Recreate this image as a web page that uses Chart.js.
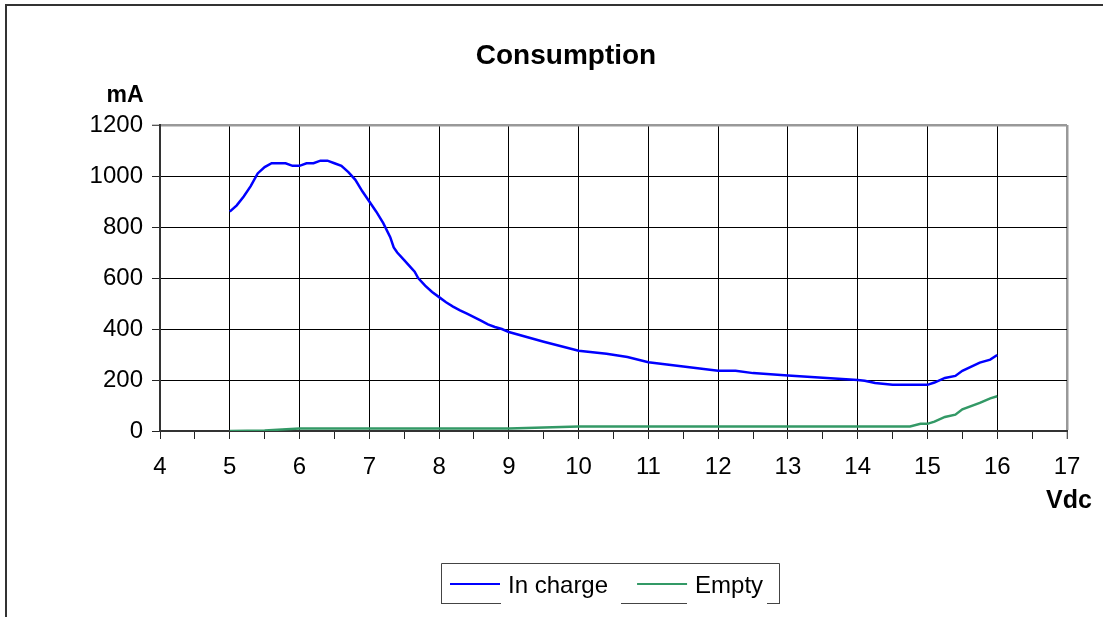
<!DOCTYPE html>
<html>
<head>
<meta charset="utf-8">
<script src="https://cdn.jsdelivr.net/npm/chart.js@4/dist/chart.umd.min.js"></script>
<style>
  html, body { margin: 0; padding: 0; background: #fff; overflow: hidden; }
  canvas { display: block; }
</style>
</head>
<body>
<canvas id="c" width="1103" height="617"></canvas>
<script>
// Texts
const chartTitle = 'Consumption';
const yAxisTitle = 'mA';
const xAxisTitle = 'Vdc';
const seriesNames = ['In charge', 'Empty'];

// Supply voltage (Vdc) and current draw (mA), battery in charge
const chargeVolts = [5.0, 5.1, 5.2, 5.3, 5.4, 5.5, 5.6, 5.7, 5.8, 5.9, 6.0, 6.1, 6.2, 6.3, 6.4, 6.5, 6.6, 6.7, 6.8, 6.9,
  7.0, 7.1, 7.2, 7.3, 7.35, 7.4, 7.5, 7.6, 7.65, 7.7, 7.8, 7.9, 8.0, 8.1, 8.2, 8.3, 8.4, 8.5, 8.6, 8.7, 8.8, 8.9,
  9.0, 9.5, 10.0, 10.4, 10.7, 11.0, 11.5, 12.0, 12.25, 12.5, 13.0, 13.5, 14.0, 14.1, 14.25, 14.5, 15.0, 15.1,
  15.25, 15.4, 15.5, 15.75, 15.9, 16.0];
const chargeMilliamps = [860, 885, 920, 960, 1010, 1035, 1050, 1050, 1050, 1040, 1040, 1050, 1050, 1060, 1060, 1050, 1040, 1015, 985, 940,
  900, 860, 815, 760, 720, 700, 670, 640, 625, 600, 570, 545, 525, 505, 488, 473, 460, 447, 433, 418, 408, 400,
  388, 350, 315, 303, 290, 270, 253, 236, 236, 227, 218, 209, 200, 197, 188, 181, 181, 190,
  208, 216, 236, 268, 280, 298];

// Battery empty
const emptyVolts = [5.0, 5.5, 6.0, 9.0, 10.0, 14.75, 14.9, 15.0, 15.1, 15.25, 15.4, 15.5, 15.75, 15.9, 16.0];
const emptyMilliamps = [0, 2, 10, 10, 18, 18, 28, 28, 37, 55, 64, 85, 110, 128, 136];

// Axis ranges and steps
const xRange = [4, 17];
const xStep = 0.5;
const yRange = [0, 1200];
const yStep = 200;

const seriesColors = ['#0000ff', '#339966'];
const FONT = 'Arial, "Liberation Sans", sans-serif';

const toPoints = (xs, ys) => xs.map((x, i) => ({ x, y: ys[i] }));

// Frame, titles and the boxed legend
const decor = {
  id: 'decor',
  beforeDraw(chart) {
    const ctx = chart.ctx;
    ctx.save();
    ctx.fillStyle = '#fff';
    ctx.fillRect(0, 0, chart.width, chart.height);
    ctx.strokeStyle = '#333';
    ctx.lineWidth = 2;
    ctx.beginPath();
    ctx.moveTo(6, chart.height);
    ctx.lineTo(6, 5);
    ctx.lineTo(chart.width, 5);
    ctx.stroke();
    ctx.restore();
  },
  afterDraw(chart) {
    const ctx = chart.ctx;
    ctx.save();
    ctx.fillStyle = '#000';
    ctx.textBaseline = 'alphabetic';

    ctx.textAlign = 'center';
    ctx.font = 'bold 28px ' + FONT;
    ctx.fillText(chartTitle, 566, 64);

    ctx.font = 'bold 23px ' + FONT;
    ctx.fillText(yAxisTitle, 125, 102);

    ctx.font = 'bold 25px ' + FONT;
    ctx.fillText(xAxisTitle, 1069, 508);

    // legend
    const box = { l: 441, t: 563, r: 779, b: 603 };
    ctx.strokeStyle = '#444';
    ctx.lineWidth = 1;
    ctx.beginPath();
    ctx.moveTo(box.l + 0.5, box.b + 0.5);
    ctx.lineTo(box.l + 0.5, box.t + 0.5);
    ctx.lineTo(box.r + 0.5, box.t + 0.5);
    ctx.lineTo(box.r + 0.5, box.b + 0.5);
    ctx.stroke();
    // bottom edge, broken under the entries
    [[441, 500], [621, 686], [767, 779]].forEach(([a, b]) => {
      ctx.beginPath();
      ctx.moveTo(a, box.b + 0.5);
      ctx.lineTo(b + 1, box.b + 0.5);
      ctx.stroke();
    });

    ctx.font = '24px ' + FONT;
    ctx.textAlign = 'left';
    const midY = 584;
    let x = 450;
    chart.data.datasets.forEach((ds) => {
      ctx.strokeStyle = ds.borderColor;
      ctx.lineWidth = 2;
      ctx.beginPath();
      ctx.moveTo(x, midY);
      ctx.lineTo(x + 50, midY);
      ctx.stroke();
      ctx.fillStyle = '#000';
      ctx.fillText(ds.label, x + 58, 593);
      x += 58 + ctx.measureText(ds.label).width + 29;
    });
    ctx.restore();
  }
};

new Chart(document.getElementById('c'), {
  type: 'line',
  data: {
    datasets: [
      {
        label: seriesNames[0],
        data: toPoints(chargeVolts, chargeMilliamps),
        borderColor: seriesColors[0],
        backgroundColor: seriesColors[0],
        borderWidth: 2.5,
        pointRadius: 0,
        tension: 0,
        fill: false
      },
      {
        label: seriesNames[1],
        data: toPoints(emptyVolts, emptyMilliamps),
        borderColor: seriesColors[1],
        backgroundColor: seriesColors[1],
        borderWidth: 2.5,
        pointRadius: 0,
        tension: 0,
        fill: false
      }
    ]
  },
  options: {
    responsive: false,
    animation: false,
    devicePixelRatio: 1,
    layout: { padding: { left: 8, top: 125, right: 36, bottom: 126 } },
    plugins: {
      legend: { display: false },
      title: { display: false },
      tooltip: { enabled: false }
    },
    scales: {
      x: {
        type: 'linear',
        min: xRange[0],
        max: xRange[1],
        afterFit(scale) { scale.height = 60; },
        ticks: {
          stepSize: xStep,
          autoSkip: false,
          maxRotation: 0,
          padding: 14,
          color: '#000',
          font: { family: FONT, size: 24 },
          callback: v => Number.isInteger(v) ? String(v) : ''
        },
        grid: {
          drawTicks: true,
          tickLength: 8,
          tickColor: '#222',
          tickWidth: 1,
          color: ctx => {
            const v = ctx.tick ? ctx.tick.value : 0;
            if (!Number.isInteger(v) || v === xRange[0]) return 'rgba(0,0,0,0)';
            return v === xRange[1] ? '#999' : '#000';
          },
          lineWidth: ctx => (ctx.tick && ctx.tick.value === xRange[1]) ? 2.5 : 1
        },
        border: { display: true, color: '#333', width: 2 }
      },
      y: {
        type: 'linear',
        min: yRange[0],
        max: yRange[1],
        afterFit(scale) { scale.width = 152; },
        ticks: {
          stepSize: yStep,
          padding: 9,
          color: '#000',
          font: { family: FONT, size: 24 },
          callback: v => String(v)
        },
        grid: {
          drawTicks: true,
          tickLength: 8,
          tickColor: '#222',
          tickWidth: 1,
          color: ctx => {
            const v = ctx.tick ? ctx.tick.value : 0;
            if (v === yRange[0]) return 'rgba(0,0,0,0)';
            return v === yRange[1] ? '#999' : '#000';
          },
          lineWidth: ctx => (ctx.tick && ctx.tick.value === yRange[1]) ? 2.5 : 1
        },
        border: { display: true, color: '#333', width: 2 }
      }
    }
  },
  plugins: [decor]
});
</script>
</body>
</html>
